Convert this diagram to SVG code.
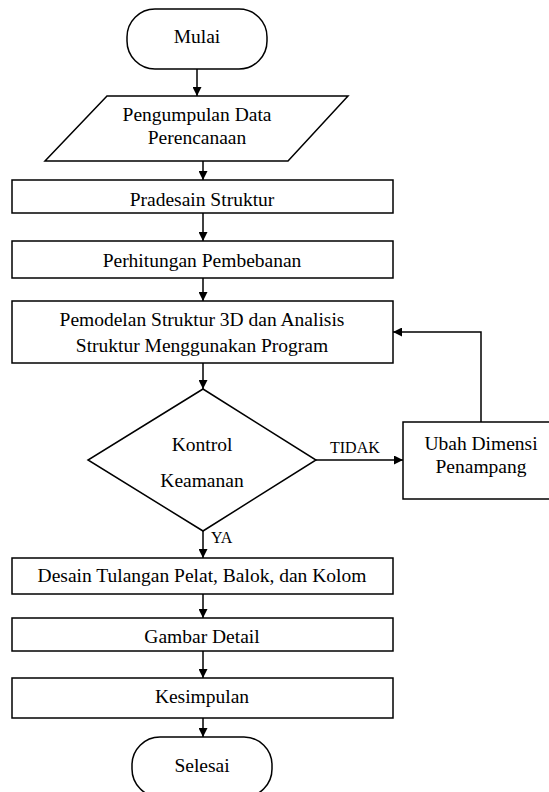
<svg xmlns="http://www.w3.org/2000/svg" width="549" height="792" viewBox="0 0 549 792">
<style>
.s{fill:#fff;stroke:#000;stroke-width:1.5}
.t{font-family:'Liberation Serif','DejaVu Serif',serif;font-size:19.5px;fill:#000;text-anchor:middle}
.l{font-family:'Liberation Serif','DejaVu Serif',serif;font-size:16px;fill:#000}
.c{fill:none;stroke:#000;stroke-width:1.5}
</style>
<defs>
<marker id="ah" viewBox="0 0 10 10" refX="10" refY="5" markerWidth="9" markerHeight="9" markerUnits="userSpaceOnUse" orient="auto">
<path d="M0,0 L10,5 L0,10 Z" fill="#000"/>
</marker>
</defs>
<rect width="549" height="792" fill="#fff"/>
<g id="connectors">
<line class="c" x1="197" y1="69" x2="197" y2="96" marker-end="url(#ah)"/>
<line class="c" x1="203" y1="161" x2="203" y2="180" marker-end="url(#ah)"/>
<line class="c" x1="203" y1="213" x2="203" y2="241" marker-end="url(#ah)"/>
<line class="c" x1="203" y1="278" x2="203" y2="301" marker-end="url(#ah)"/>
<line class="c" x1="203" y1="363" x2="203" y2="389" marker-end="url(#ah)"/>
<line class="c" x1="316" y1="460" x2="403" y2="460" marker-end="url(#ah)"/>
<polyline class="c" points="481,422 481,332 393,332" marker-end="url(#ah)"/>
<line class="c" x1="203" y1="531" x2="203" y2="558" marker-end="url(#ah)"/>
<line class="c" x1="203" y1="594" x2="203" y2="618" marker-end="url(#ah)"/>
<line class="c" x1="203" y1="651" x2="203" y2="678" marker-end="url(#ah)"/>
<line class="c" x1="203" y1="718" x2="203" y2="737" marker-end="url(#ah)"/>
<text class="l" x="330" y="453" font-family="Liberation Serif, serif">TIDAK</text>
<text class="l" x="211" y="543" font-family="Liberation Serif, serif">YA</text>
</g>
<g id="mulai">
<rect class="s" x="127" y="9" width="140" height="60" rx="28" ry="28"/>
<text class="t" x="197" y="43">Mulai</text>
</g>
<g id="pengumpulan">
<polygon class="s" points="107,96 348,96 288,161 45,161"/>
<text class="t" x="197" y="121">Pengumpulan Data</text>
<text class="t" x="197" y="144">Perencanaan</text>
</g>
<g id="pradesain">
<rect class="s" x="12" y="180" width="381" height="33"/>
<text class="t" x="202" y="206">Pradesain Struktur</text>
</g>
<g id="perhitungan">
<rect class="s" x="12" y="241" width="381" height="37"/>
<text class="t" x="202" y="267">Perhitungan Pembebanan</text>
</g>
<g id="pemodelan">
<rect class="s" x="12" y="301" width="381" height="62"/>
<text class="t" x="202" y="326">Pemodelan Struktur 3D dan Analisis</text>
<text class="t" x="202" y="352">Struktur Menggunakan Program</text>
</g>
<g id="kontrol">
<polygon class="s" points="203,389 316,460 203,531 88,460"/>
<text class="t" x="202" y="451">Kontrol</text>
<text class="t" x="202" y="487">Keamanan</text>
</g>
<g id="ubah">
<rect class="s" x="403" y="422" width="150" height="77"/>
<text class="t" x="481" y="450">Ubah Dimensi</text>
<text class="t" x="481" y="473">Penampang</text>
</g>
<g id="desain">
<rect class="s" x="12" y="558" width="381" height="36"/>
<text class="t" x="202" y="582">Desain Tulangan Pelat, Balok, dan Kolom</text>
</g>
<g id="gambar">
<rect class="s" x="12" y="618" width="381" height="33"/>
<text class="t" x="202" y="643">Gambar Detail</text>
</g>
<g id="kesimpulan">
<rect class="s" x="12" y="678" width="381" height="40"/>
<text class="t" x="202" y="703">Kesimpulan</text>
</g>
<g id="selesai">
<rect class="s" x="132" y="737" width="140" height="60" rx="28" ry="28"/>
<text class="t" x="202" y="772">Selesai</text>
</g>
</svg>
